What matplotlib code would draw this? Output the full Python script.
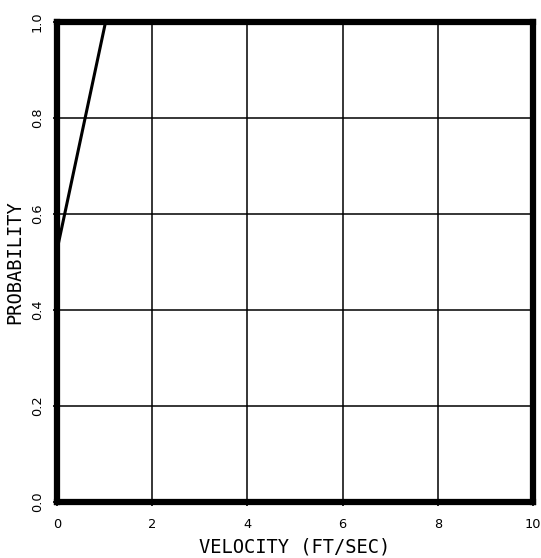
import numpy as np
import matplotlib
matplotlib.use("Agg")
from matplotlib import pyplot as plt
from matplotlib.ticker import MultipleLocator

# curve
velocity = [0.0, 1.02]
probability = [0.525, 1.0]

x_ticks = [0, 2, 4, 6, 8, 10]
y_ticks = [0.0, 0.2, 0.4, 0.6, 0.8, 1.0]

plt.rcParams['font.family'] = ['DejaVu Sans Mono']

fig = plt.figure(figsize=(5.41, 5.58), dpi=100)
ax = fig.add_axes([0.1054, 0.1004, 0.8798, 0.8602])

ax.plot(velocity, probability, color='black', lw=2.2, solid_capstyle='butt', zorder=3)

ax.set_xlim(0, 10)
ax.set_ylim(0, 1)
ax.set_xticks(x_ticks)
ax.set_yticks(y_ticks)
ax.set_xticklabels([str(v) for v in x_ticks], fontsize=9.3, family='DejaVu Sans')
ax.set_yticklabels([f"{v:.1f}" for v in y_ticks], fontsize=9.3, family='DejaVu Sans',
                   rotation=90, va='center')
ax.xaxis.set_minor_locator(MultipleLocator(0.4))
ax.yaxis.set_minor_locator(MultipleLocator(0.04))
ax.tick_params(axis='x', which='major', direction='out', length=3, width=1.2, pad=8.5)
ax.tick_params(axis='y', which='major', direction='out', length=3, width=1.2, pad=6.5)
ax.tick_params(which='minor', direction='inout', length=3, width=1.0)

ax.grid(True, which='major', color='black', lw=1.1)
for s in ax.spines.values():
    s.set_linewidth(4.5)
    s.set_zorder(4)

ax.set_xlabel("VELOCITY (FT/SEC)", fontsize=13.5)
ax.set_ylabel("PROBABILITY", fontsize=13.5)
ax.xaxis.set_label_coords(0.5, -0.094)
ax.yaxis.set_label_coords(-0.088, 0.5)
ax.xaxis.label.set_va('center')
ax.yaxis.label.set_va('center')

fig.savefig("out.png", dpi=100)
